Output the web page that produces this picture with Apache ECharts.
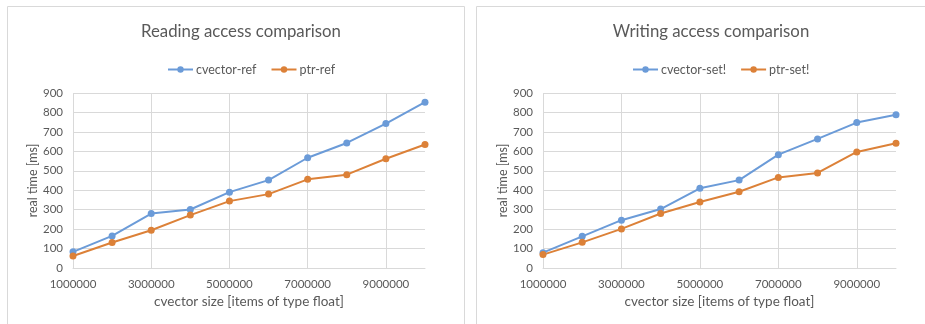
<!DOCTYPE html>
<html>
<head>
<meta charset="utf-8">
<script src="https://cdn.jsdelivr.net/npm/echarts@6/dist/echarts.min.js"></script>
<style>
  html, body { margin: 0; padding: 0; background: #ffffff; }
  #chart { width: 925px; height: 324px; }
</style>
</head>
<body>
<div id="chart"></div>
<script>
// Vector sizes (items of type float)
const sizes = ['1000000', '2000000', '3000000', '4000000', '5000000',
               '6000000', '7000000', '8000000', '9000000', '10000000'];

// Reading access times [ms]
const cvectorRef = [83, 165, 280, 301, 390, 452, 567, 643, 743, 853];
const ptrRef     = [62, 131, 194, 272, 344, 380, 456, 480, 562, 635];

// Writing access times [ms]
const cvectorSet = [79, 163, 246, 303, 410, 452, 583, 664, 748, 788];
const ptrSet     = [69, 132, 201, 280, 339, 392, 466, 489, 597, 642];

const yTicks = { min: 0, max: 900, interval: 100 };

const BLUE = '#6b9bd8';
const ORANGE = '#dc8138';
const TEXT = '#595959';
const GRID = '#d9d9d9';
const FONT = 'Lato, "Open Sans", sans-serif';

const chart = echarts.init(document.getElementById('chart'), null, { renderer: 'canvas' });

function xAxis(gridIndex) {
  return {
    type: 'category',
    gridIndex,
    data: sizes,
    boundaryGap: false,
    name: 'cvector size [items of type float]',
    nameLocation: 'middle',
    nameGap: 27,
    nameTextStyle: { color: TEXT, fontSize: 13.5, fontFamily: FONT },
    axisLine: { show: true, lineStyle: { color: GRID, width: 1 } },
    axisTick: { show: false },
    axisLabel: { interval: 1, color: TEXT, fontSize: 11.5, fontFamily: FONT, margin: 10 },
    splitLine: { show: true, interval: 1, lineStyle: { color: GRID, width: 1 } }
  };
}

function yAxis(gridIndex) {
  return {
    type: 'value',
    gridIndex,
    min: yTicks.min,
    max: yTicks.max,
    interval: yTicks.interval,
    name: 'real time [ms]',
    nameLocation: 'middle',
    nameGap: 34,
    nameTextStyle: { color: TEXT, fontSize: 12.5, fontFamily: FONT },
    axisLine: { show: false },
    axisTick: { show: false },
    axisLabel: { color: TEXT, fontSize: 11.5, fontFamily: FONT, margin: 10 },
    splitLine: { show: true, lineStyle: { color: GRID, width: 1 } }
  };
}

function lineSeries(name, data, color, idx) {
  return {
    name,
    type: 'line',
    xAxisIndex: idx,
    yAxisIndex: idx,
    data,
    symbol: 'circle',
    symbolSize: 7,
    lineStyle: { color, width: 2 },
    itemStyle: { color },
    emphasis: { disabled: true },
    animation: false
  };
}

const legendCommon = {
  top: 58,
  itemWidth: 25,
  itemHeight: 8,
  itemGap: 14,
  textStyle: { color: TEXT, fontSize: 12.5, fontFamily: FONT, padding: [0, 0, 0, -2] }
};

chart.setOption({
  animation: false,
  graphic: [
    { type: 'rect', shape: { x: 7.5, y: 6.5, width: 457, height: 330 },
      style: { fill: 'none', stroke: '#d9d9d9', lineWidth: 1 } },
    { type: 'rect', shape: { x: 476.5, y: 6.5, width: 470, height: 330 },
      style: { fill: 'none', stroke: '#d9d9d9', lineWidth: 1 } }
  ],
  title: [
    { text: 'Reading access comparison', left: 236, top: 18, textAlign: 'center',
      textStyle: { color: TEXT, fontSize: 16.8, fontWeight: 'normal', fontFamily: FONT } },
    { text: 'Writing access comparison', left: 706, top: 18, textAlign: 'center',
      textStyle: { color: TEXT, fontSize: 16.8, fontWeight: 'normal', fontFamily: FONT } }
  ],
  legend: [
    Object.assign({}, legendCommon, { data: ['cvector-ref', 'ptr-ref'], left: 162 }),
    Object.assign({}, legendCommon, { data: ['cvector-set!', 'ptr-set!'], left: 627 })
  ],
  grid: [
    { left: 73, top: 93, width: 352, height: 175 },
    { left: 543, top: 93, width: 353, height: 175 }
  ],
  xAxis: [xAxis(0), xAxis(1)],
  yAxis: [yAxis(0), yAxis(1)],
  series: [
    lineSeries('cvector-ref', cvectorRef, BLUE, 0),
    lineSeries('ptr-ref', ptrRef, ORANGE, 0),
    lineSeries('cvector-set!', cvectorSet, BLUE, 1),
    lineSeries('ptr-set!', ptrSet, ORANGE, 1)
  ]
});
</script>
</body>
</html>
